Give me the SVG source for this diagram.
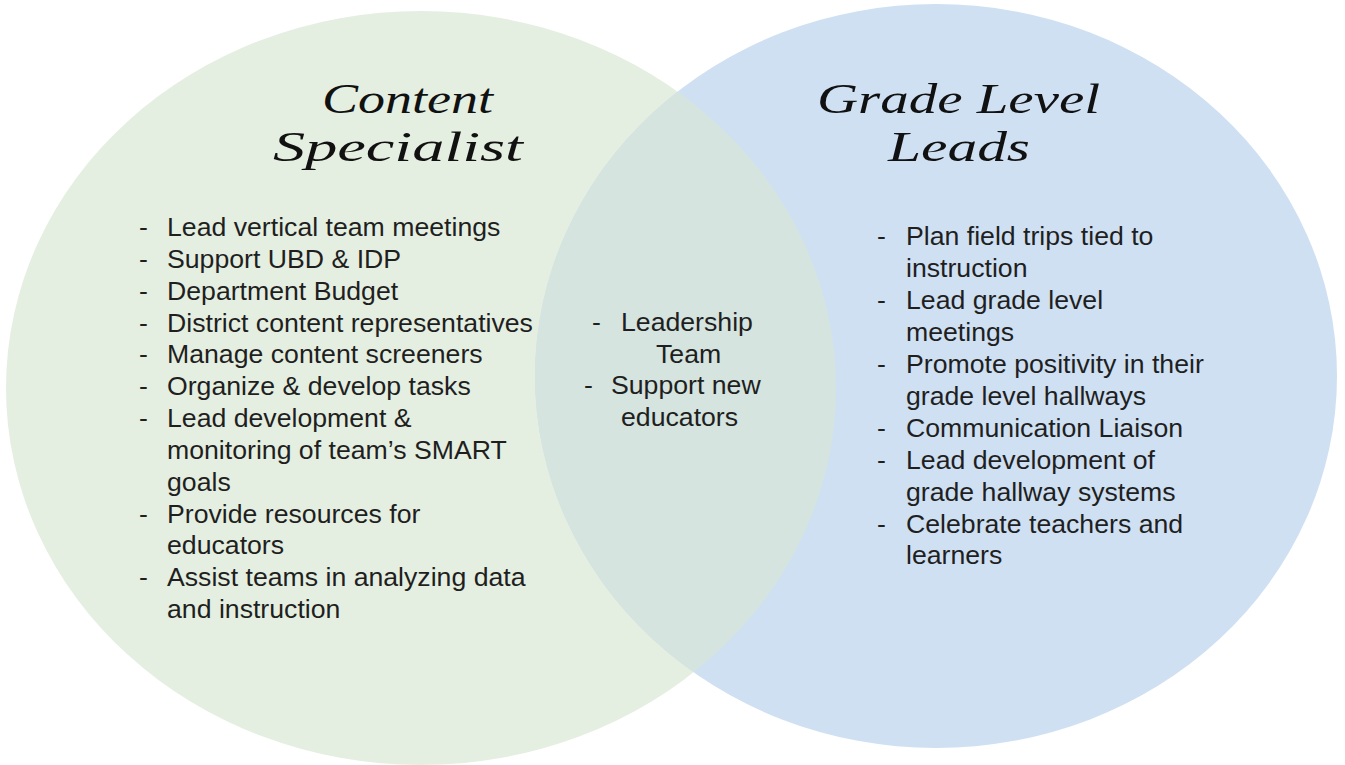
<svg xmlns="http://www.w3.org/2000/svg" width="1345" height="765" viewBox="0 0 1345 765">
  <style>
    .item { font-family: "Liberation Sans", Arial, sans-serif; font-size: 26.67px; fill: #1f1f1f; }
    .title { font-family: "Liberation Serif", "DejaVu Serif", serif; font-style: italic; font-size: 42px; fill: #111111; }
  </style>
  <defs>
    <clipPath id="rightClip">
      <ellipse cx="936" cy="376" rx="401" ry="372"/>
    </clipPath>
  </defs>
  <rect width="1345" height="765" fill="#ffffff"/>

  <!-- Venn circles -->
  <g id="circle-left">
    <ellipse cx="421" cy="388" rx="415" ry="377" fill="#e5efe1"/>
  </g>
  <g id="circle-right">
    <ellipse cx="936" cy="376" rx="401" ry="372" fill="#cfe0f3"/>
  </g>
  <g id="overlap">
    <ellipse cx="421" cy="388" rx="415" ry="377" fill="#d5e4de" clip-path="url(#rightClip)"/>
  </g>

  <!-- Left set: Content Specialist -->
  <g id="content-specialist">
    <text class="title" x="322" y="113" textLength="171" lengthAdjust="spacingAndGlyphs">Content</text>
    <text class="title" x="273" y="161" textLength="250" lengthAdjust="spacingAndGlyphs">Specialist</text>
    <g class="item">
      <text x="139" y="236">-</text><text x="167" y="236">Lead vertical team meetings</text>
      <text x="139" y="268">-</text><text x="167" y="268">Support UBD &amp; IDP</text>
      <text x="139" y="300">-</text><text x="167" y="300">Department Budget</text>
      <text x="139" y="332">-</text><text x="167" y="332">District content representatives</text>
      <text x="139" y="363">-</text><text x="167" y="363">Manage content screeners</text>
      <text x="139" y="395">-</text><text x="167" y="395">Organize &amp; develop tasks</text>
      <text x="139" y="427">-</text><text x="167" y="427">Lead development &amp;</text>
      <text x="167" y="459">monitoring of team’s SMART</text>
      <text x="167" y="491">goals</text>
      <text x="139" y="523">-</text><text x="167" y="523">Provide resources for</text>
      <text x="167" y="554">educators</text>
      <text x="139" y="586">-</text><text x="167" y="586">Assist teams in analyzing data</text>
      <text x="167" y="618">and instruction</text>
    </g>
  </g>

  <!-- Shared responsibilities -->
  <g id="shared">
    <g class="item">
      <text x="592" y="331">-</text><text x="621" y="331">Leadership</text>
      <text x="656" y="363">Team</text>
      <text x="584" y="394">-</text><text x="611" y="394">Support new</text>
      <text x="621" y="426">educators</text>
    </g>
  </g>

  <!-- Right set: Grade Level Leads -->
  <g id="grade-level-leads">
    <text class="title" x="817" y="113" textLength="283" lengthAdjust="spacingAndGlyphs">Grade Level</text>
    <text class="title" x="888" y="161" textLength="142" lengthAdjust="spacingAndGlyphs">Leads</text>
    <g class="item">
      <text x="877" y="245">-</text><text x="906" y="245">Plan field trips tied to</text>
      <text x="906" y="277">instruction</text>
      <text x="877" y="309">-</text><text x="906" y="309">Lead grade level</text>
      <text x="906" y="341">meetings</text>
      <text x="877" y="373">-</text><text x="906" y="373">Promote positivity in their</text>
      <text x="906" y="405">grade level hallways</text>
      <text x="877" y="437">-</text><text x="906" y="437">Communication Liaison</text>
      <text x="877" y="469">-</text><text x="906" y="469">Lead development of</text>
      <text x="906" y="501">grade hallway systems</text>
      <text x="877" y="533">-</text><text x="906" y="533">Celebrate teachers and</text>
      <text x="906" y="564">learners</text>
    </g>
  </g>

  <!-- no connectors in this diagram -->
  <g id="connectors"/>
</svg>
